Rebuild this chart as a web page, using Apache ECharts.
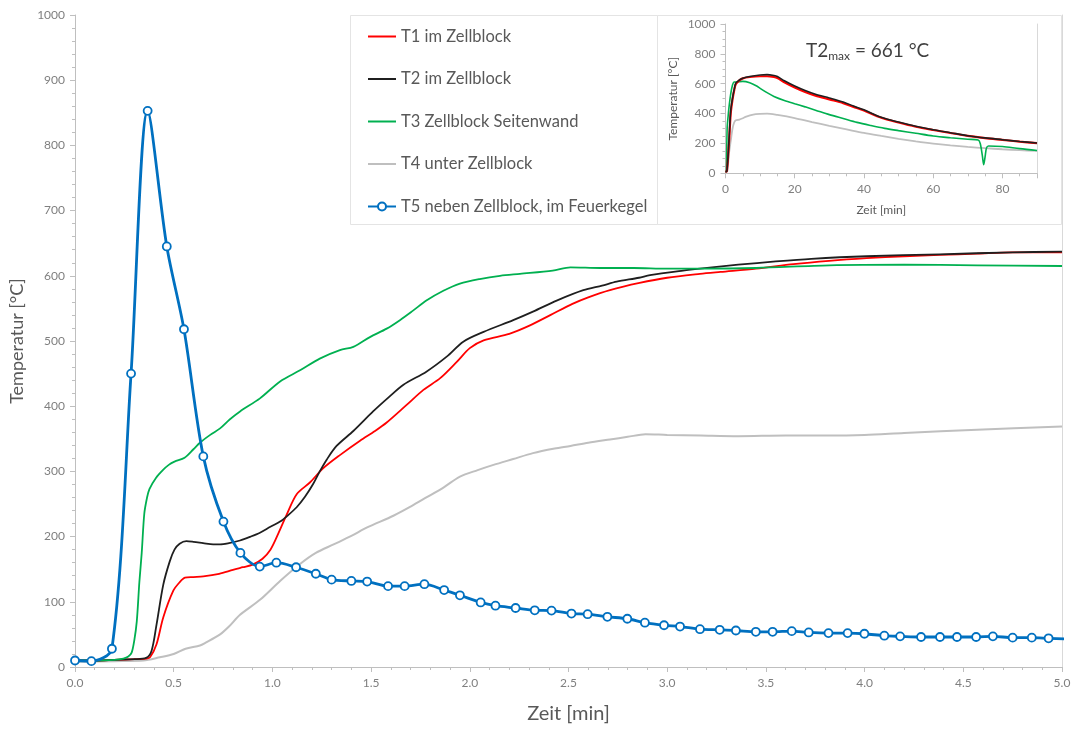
<!DOCTYPE html>
<html>
<head>
<meta charset="utf-8">
<script src="https://cdn.jsdelivr.net/npm/echarts@6/dist/echarts.min.js"></script>
<style>
html,body{margin:0;padding:0;background:#fff;}
#chart{width:1074px;height:729px;}
</style>
</head>
<body>
<div id="chart"></div>
<script>
// ---- Main chart data: [time in min, temperature in °C] ----
const seriesNames = ['T1 im Zellblock', 'T2 im Zellblock', 'T3 Zellblock Seitenwand', 'T4 unter Zellblock', 'T5 neben Zellblock, im Feuerkegel'];

const t1Main = [[0,10],[0.1,10],[0.2,11],[0.3,12],[0.36,13],[0.38,15],[0.413,35],[0.447,76],[0.498,117],[0.53,130],[0.557,137],[0.6,138],[0.65,139],[0.73,143],[0.8,149],[0.85,153],[0.9,157],[0.95,166],[0.99,180],[1.02,198],[1.073,234],[1.123,265],[1.19,283],[1.258,305],[1.342,325],[1.444,347],[1.52,362],[1.579,375],[1.68,402],[1.765,425],[1.85,443],[1.934,468],[2.0,489],[2.07,501],[2.2,511],[2.305,524],[2.41,540],[2.52,557],[2.6,567],[2.71,578],[2.86,589],[3.0,597],[3.166,603],[3.27,606],[3.45,611],[3.64,618],[3.82,623],[4.01,627],[4.2,630],[4.38,632],[4.57,634],[4.75,636],[5.0,636]];

const t2Main = [[0,10],[0.1,10],[0.2,11],[0.3,12],[0.36,14],[0.388,25],[0.413,65],[0.447,126],[0.48,162],[0.504,180],[0.53,189],[0.564,193],[0.6,192],[0.649,190],[0.7,188],[0.735,188],[0.78,190],[0.836,194],[0.89,200],[0.937,206],[0.99,215],[1.039,223],[1.08,233],[1.123,245],[1.165,261],[1.207,281],[1.24,300],[1.275,318],[1.325,339],[1.41,362],[1.51,392],[1.59,414],[1.664,433],[1.78,453],[1.883,476],[1.967,499],[2.07,514],[2.22,532],[2.32,545],[2.44,562],[2.575,578],[2.67,585],[2.744,591],[2.857,597],[2.913,601],[3.08,608],[3.166,611],[3.36,617],[3.55,622],[3.73,626],[4.01,630],[4.38,633],[4.75,636],[5.0,637]];

const t3Main = [[0,10],[0.1,10],[0.2,11],[0.245,13],[0.27,16],[0.287,22],[0.3,40],[0.313,70],[0.326,130],[0.338,175],[0.351,235],[0.365,260],[0.377,273],[0.41,290],[0.445,302],[0.475,310],[0.504,315],[0.555,321],[0.6,334],[0.633,344],[0.685,356],[0.735,366],[0.785,380],[0.836,392],[0.937,412],[1.039,438],[1.14,455],[1.24,473],[1.342,486],[1.41,491],[1.494,506],[1.579,519],[1.646,532],[1.714,547],[1.78,562],[1.866,577],[1.95,588],[2.05,595],[2.153,600],[2.254,603],[2.42,608],[2.51,613],[2.66,612],[2.83,612],[3.0,611],[3.17,611],[3.45,612],[3.82,616],[4.2,617],[4.57,616],[5.0,615]];

const t4Main = [[0,8],[0.2,9],[0.346,10],[0.43,15],[0.5,20],[0.56,28],[0.633,33],[0.66,37],[0.735,50],[0.78,62],[0.836,80],[0.937,103],[1.039,132],[1.14,158],[1.22,175],[1.31,188],[1.4,201],[1.48,214],[1.613,232],[1.7,246],[1.78,260],[1.87,276],[1.95,292],[2.04,302],[2.12,310],[2.22,319],[2.32,328],[2.43,335],[2.51,339],[2.6,344],[2.71,349],[2.8,353],[2.89,357],[3.0,356],[3.17,355],[3.36,354],[3.6,355],[3.82,355],[4.0,356],[4.2,359],[4.57,364],[5.0,369]];

const t5Main = [[0,10],[0.083,9],[0.187,28],[0.284,450],[0.368,853],[0.465,645],[0.552,518],[0.65,323],[0.752,223],[0.838,175],[0.936,154],[1.02,160],[1.12,153],[1.22,143],[1.3,134],[1.4,132],[1.48,131],[1.586,124],[1.67,124],[1.77,127],[1.87,118],[1.95,110],[2.055,99],[2.13,94],[2.232,90.5],[2.329,87],[2.414,86.5],[2.515,82],[2.597,81],[2.697,77],[2.798,74],[2.887,68],[2.984,64],[3.065,62],[3.166,58],[3.266,57],[3.348,56],[3.449,54],[3.534,54],[3.631,55],[3.717,53],[3.817,52],[3.914,52],[3.999,51],[4.1,48],[4.18,47],[4.286,46],[4.382,46],[4.468,46],[4.565,46],[4.65,47],[4.75,45],[4.847,45],[4.932,44],[5.025,43]];

// ---- Inset data (0 - 90 min) ----
const t1Inset = [[0,10],[0.4,15],[1,200],[1.5,400],[2,490],[2.5,555],[3,598],[4,622],[5,636],[7,645],[10,650],[12,650],[14,645],[15,638],[17,610],[20,575],[23,545],[26,520],[30,495],[34,470],[37,445],[40,420],[45,372],[50,340],[55,312],[60,290],[65,270],[70,251],[75,236],[80,224],[85,212],[90,202]];
const t2Inset = [[0,10],[0.4,15],[1,220],[1.5,420],[2,500],[2.5,560],[3,605],[4,625],[5,637],[7,648],[10,658],[12,661],[14,655],[15,648],[17,620],[20,585],[23,555],[26,530],[30,505],[34,478],[37,450],[40,425],[45,375],[50,343],[55,315],[60,292],[65,272],[70,252],[75,237],[80,225],[85,213],[90,203]];
const t3Inset = [[0,10],[0.25,12],[0.35,150],[0.5,315],[0.75,380],[1,440],[1.5,530],[2,590],[2.5,612],[3,612],[5,616],[7,607],[9,585],[10,569],[12,540],[14,515],[17,488],[20,466],[23,445],[26,423],[30,393],[34,367],[38,341],[42,320],[46,301],[50,286],[55,268],[60,250],[65,238],[70,228],[73,223],[73.6,200],[74.2,120],[74.6,57],[75.0,110],[75.4,170],[76,183],[80,180],[85,165],[90,153]];
const t4Inset = [[0,10],[0.5,15],[1,130],[1.5,215],[2,295],[2.5,340],[3,355],[4,360],[5,369],[6,380],[8,393],[10,398],[12,400],[15,391],[20,370],[25,343],[30,318],[35,294],[40,270],[45,250],[50,231],[55,214],[60,199],[65,187],[70,177],[75,168],[80,161],[85,155],[90,150]];

const colors = ['#ff0000', '#1f1f1f', '#00b050', '#bfbfbf', '#0070c0'];
const FONT = 'Lato, "Noto Sans", sans-serif';
const LINE_ICON = 'path://M0,0 L28,0 L28,2 L0,2 Z';

const chart = echarts.init(document.getElementById('chart'), null, {renderer: 'canvas'});

const axisLineStyle = {color: '#bfbfbf', width: 1};
function mkX(gridIndex, min, max, interval, fmt, name, nameGap, nameSize, labelSize, minorSplit, showMax) {
  return {
    type: 'value', gridIndex, min, max, interval,
    axisLine: {show: true, lineStyle: axisLineStyle},
    axisTick: {show: true, length: 5, lineStyle: axisLineStyle},
    minorTick: {show: true, splitNumber: minorSplit, length: 3, lineStyle: axisLineStyle},
    splitLine: {show: false},
    axisLabel: {color: '#7f7f7f', fontSize: labelSize, fontFamily: FONT, margin: 10, formatter: fmt, showMaxLabel: showMax},
    name, nameLocation: 'middle', nameGap,
    nameTextStyle: {color: '#595959', fontSize: nameSize, fontFamily: FONT}
  };
}
function mkY(gridIndex, name, nameGap, nameSize, labelSize, interval, minorSplit) {
  return {
    type: 'value', gridIndex, min: 0, max: 1000, interval,
    axisLine: {show: true, lineStyle: axisLineStyle},
    axisTick: {show: true, length: 5, lineStyle: axisLineStyle},
    minorTick: {show: true, splitNumber: minorSplit, length: 3, lineStyle: axisLineStyle},
    splitLine: {show: false},
    axisLabel: {color: '#7f7f7f', fontSize: labelSize, fontFamily: FONT, margin: 10, formatter: v => String(v)},
    name, nameLocation: 'middle', nameGap, nameRotate: 90,
    nameTextStyle: {color: '#595959', fontSize: nameSize, fontFamily: FONT}
  };
}
function borderY(gridIndex) {
  return {
    type: 'value', gridIndex, min: 0, max: 1000, position: 'right',
    axisLine: {show: true, lineStyle: {color: '#d9d9d9', width: 1}},
    axisTick: {show: false}, axisLabel: {show: false}, splitLine: {show: false}
  };
}

function lineSeries(name, data, color, xi, yi, width, z) {
  return {
    name, type: 'line', data, xAxisIndex: xi, yAxisIndex: yi,
    symbol: 'none', smooth: 0.3, clip: true, z,
    lineStyle: {color, width}, itemStyle: {color},
    emphasis: {disabled: true}
  };
}

const option = {
  animation: false,
  backgroundColor: '#ffffff',
  textStyle: {fontFamily: FONT},
  grid: [
    {left: 75, right: 12, top: 15, bottom: 59},
    {left: 725.5, right: 37, top: 24, bottom: 555.7}
  ],
  xAxis: [
    mkX(0, 0, 5, 0.5, v => v.toFixed(1), 'Zeit [min]', 37, 20, 12, 5, true),
    mkX(1, 0, 90, 20, v => String(v), 'Zeit [min]', 31, 12, 12, 4, false)
  ],
  yAxis: [
    mkY(0, 'Temperatur [°C]', 40, 18, 12, 100, 5),
    borderY(0),
    mkY(1, 'Temperatur [°C]', 46, 12, 12, 200, 4),
    borderY(1)
  ],
  legend: {
    show: true, orient: 'vertical', left: 367, top: 28,
    itemWidth: 28, itemHeight: 10, itemGap: 25.5, padding: 0,
    data: [
      {name: seriesNames[0], icon: LINE_ICON},
      {name: seriesNames[1], icon: LINE_ICON},
      {name: seriesNames[2], icon: LINE_ICON},
      {name: seriesNames[3], icon: LINE_ICON},
      {name: seriesNames[4]}
    ],
    textStyle: {color: '#595959', fontSize: 16.5, lineHeight: 16, fontFamily: FONT},
    selectedMode: false
  },
  graphic: [
    {type: 'rect', shape: {x: 350.5, y: 15.5, width: 307, height: 209}, style: {fill: 'none', stroke: '#e4e4e4', lineWidth: 1}, z: 0},
    {type: 'rect', shape: {x: 657.5, y: 15.5, width: 404, height: 209}, style: {fill: 'none', stroke: '#e4e4e4', lineWidth: 1}, z: 0},
    {type: 'text', left: 806, top: 41, z: 10,
      style: {
        text: '{a|T2}{s|max}{a| = 661 °C}',
        rich: {
          a: {fontSize: 19, fill: '#404040', fontFamily: FONT, lineHeight: 24, verticalAlign: 'middle'},
          s: {fontSize: 12, fill: '#404040', fontFamily: FONT, lineHeight: 12, verticalAlign: 'bottom'}
        }
      }
    }
  ],
  series: [
    lineSeries(seriesNames[0], t1Main, colors[0], 0, 0, 1.8, 2),
    lineSeries(seriesNames[1], t2Main, colors[1], 0, 0, 1.8, 3),
    lineSeries(seriesNames[2], t3Main, colors[2], 0, 0, 1.8, 4),
    lineSeries(seriesNames[3], t4Main, colors[3], 0, 0, 2, 1),
    {
      name: seriesNames[4], type: 'line', data: t5Main, xAxisIndex: 0, yAxisIndex: 0,
      symbol: 'circle', symbolSize: 8, showSymbol: true, smooth: 0.3, clip: true, z: 6,
      lineStyle: {color: colors[4], width: 2.8},
      itemStyle: {color: '#ffffff', borderColor: colors[4], borderWidth: 1.8},
      emphasis: {disabled: true}
    },
    lineSeries(seriesNames[3], t4Inset, colors[3], 1, 2, 1.8, 1),
    lineSeries(seriesNames[2], t3Inset, colors[2], 1, 2, 1.6, 2),
    lineSeries(seriesNames[0], t1Inset, colors[0], 1, 2, 2.2, 3),
    lineSeries(seriesNames[1], t2Inset, colors[1], 1, 2, 1.6, 4)
  ]
};
chart.setOption(option);
</script>
</body>
</html>
